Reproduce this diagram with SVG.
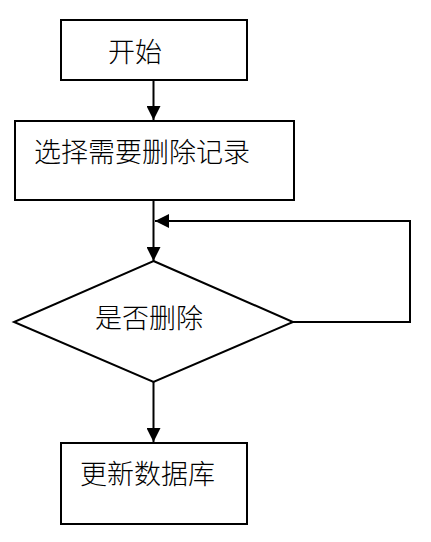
<svg xmlns="http://www.w3.org/2000/svg" width="431" height="542" viewBox="0 0 431 542">
<defs>
<style>
.n{fill:#fff;stroke:#000;stroke-width:2}
.t{font-family:"Noto Sans CJK SC","Noto Sans CJK JP",sans-serif;font-size:27px;font-weight:300;fill:#000}
.c{fill:none;stroke:#000;stroke-width:2}
</style>
<marker id="ah" markerWidth="14" markerHeight="14" viewBox="0 0 14 14" refX="14" refY="7" orient="auto" markerUnits="userSpaceOnUse">
<path d="M0,0 L14,7 L0,14 Z" fill="#000"/>
</marker>
</defs>
<g id="start">
<rect class="n" x="61" y="20" width="186" height="60"/>
<text class="t" x="108" y="62">开始</text>
</g>
<g id="select">
<rect class="n" x="15" y="121" width="279" height="79"/>
<text class="t" x="34" y="162">选择需要删除记录</text>
</g>
<g id="decide">
<polygon class="n" points="153.5,261 293,322 153.5,382 14,322"/>
<text class="t" x="95" y="328">是否删除</text>
</g>
<g id="update">
<rect class="n" x="61" y="443" width="186" height="81"/>
<text class="t" x="80" y="484">更新数据库</text>
</g>
<g id="connectors">
<line class="c" x1="153.5" y1="80" x2="153.5" y2="120" marker-end="url(#ah)"/>
<line class="c" x1="153.5" y1="200" x2="153.5" y2="261" marker-end="url(#ah)"/>
<polyline class="c" points="293,322 410,322 410,221 155,221" marker-end="url(#ah)"/>
<line class="c" x1="153.5" y1="382" x2="153.5" y2="442" marker-end="url(#ah)"/>
</g>
</svg>
